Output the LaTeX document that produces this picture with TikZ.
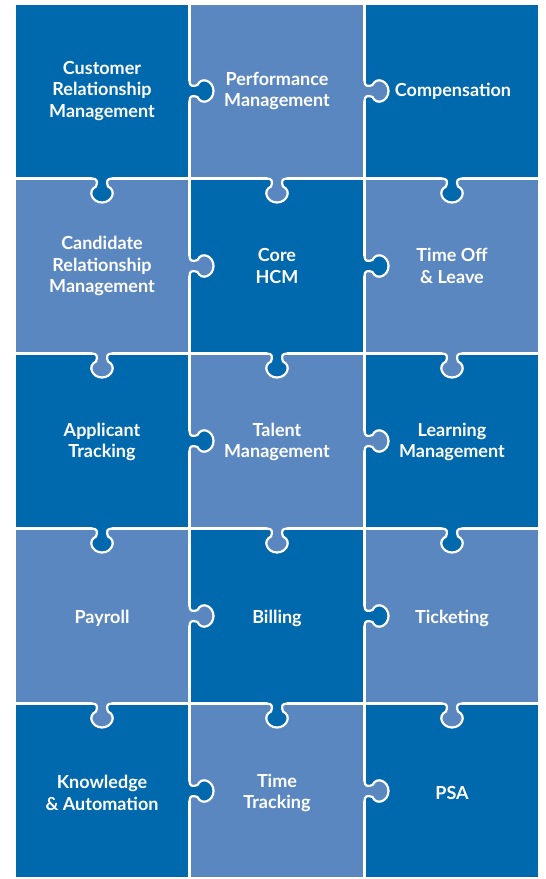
\documentclass[tikz,border=0pt]{standalone}
\usepackage{fontspec}
\setmainfont{Lato}
\definecolor{tiledark}{RGB}{0,104,172}
\definecolor{tilelight}{RGB}{91,135,193}
\tikzset{
  tile label/.style={text=white, align=center,
    font=\bfseries\fontsize{18}{21.5}\selectfont},
  seam/.style={draw=white, line width=2.2pt},
  knob/.pic={
    \path[pic actions] (-10,-1.6) -- (-10,0) .. controls (-5,0) and (-4,3) .. (-6,8)
      .. controls (-15,12) and (-10,24) .. (0,24)
      .. controls (10,24) and (15,12) .. (6,8)
      .. controls (4,3) and (5,0) .. (10,0) -- (10,-1.6) -- cycle;
    \draw[seam] (-11,0) -- (-10,0) .. controls (-5,0) and (-4,3) .. (-6,8)
      .. controls (-15,12) and (-10,24) .. (0,24)
      .. controls (10,24) and (15,12) .. (6,8)
      .. controls (4,3) and (5,0) .. (10,0) -- (11,0);
  }
}
\begin{document}
\begin{tikzpicture}[x=1pt,y=-1pt]
  \useasboundingbox (0,0) rectangle (546,879);
  % tiles
  \foreach \r in {0,...,4}
    \foreach \c in {0,...,2} {
      \pgfmathparse{int(mod(\r+\c,2))}
      \ifnum\pgfmathresult=0 \def\tilecol{tiledark}\else\def\tilecol{tilelight}\fi
      \fill[\tilecol] (14.5+175*\c,3.5+175*\r) rectangle ++(175,175);
    }
  % seams
  \foreach \c in {1,2}
    \draw[seam] (14.5+175*\c,3.5) -- ++(0,875);
  \foreach \r in {1,...,4}
    \draw[seam] (14.5,3.5+175*\r) -- ++(525,0);
  \draw[seam] (14.5,3.5) rectangle (539.5,878.5);
  % knobs going down
  \foreach \r in {1,...,4}
    \foreach \c in {0,...,2} {
      \pgfmathparse{int(mod(\r-1+\c,2))}
      \ifnum\pgfmathresult=0 \def\tilecol{tiledark}\else\def\tilecol{tilelight}\fi
      \pic[fill=\tilecol] at (102+175*\c,3.5+175*\r) {knob};
    }
  % knobs going right
  \foreach \r in {0,...,4}
    \foreach \c in {1,2} {
      \pgfmathparse{int(mod(\r+\c-1,2))}
      \ifnum\pgfmathresult=0 \def\tilecol{tiledark}\else\def\tilecol{tilelight}\fi
      \pic[fill=\tilecol,rotate=90] at (14.5+175*\c,91+175*\r) {knob};
    }
  % labels
  \node[tile label] (crm) at (102,91) {Customer\\Relationship\\Management};
  \node[tile label] (perf) at (277,91) {Performance\\Management};
  \node[tile label] (comp) at (453,91) {Compensation};
  \node[tile label] (cand) at (102,266) {Candidate\\Relationship\\Management};
  \node[tile label] (core) at (277,266) {Core\\HCM};
  \node[tile label] (timeoff) at (452,266) {Time Off\\\& Leave};
  \node[tile label] (ats) at (102,442) {Applicant\\Tracking};
  \node[tile label] (talent) at (277,442) {Talent\\Management};
  \node[tile label] (lms) at (452,442) {Learning\\Management};
  \node[tile label] (payroll) at (102,618) {Payroll};
  \node[tile label] (billing) at (277,618) {Billing};
  \node[tile label] (ticket) at (452,618) {Ticketing};
  \node[tile label] (knowledge) at (102,793) {Knowledge\\\& Automation};
  \node[tile label] (timetrack) at (277,793) {Time\\Tracking};
  \node[tile label] (psa) at (452,793) {PSA};
\end{tikzpicture}
\end{document}
